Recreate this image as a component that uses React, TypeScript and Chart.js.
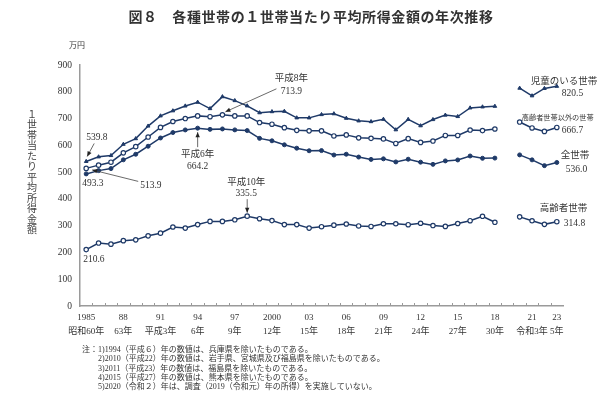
import React, { useEffect, useRef } from "react";
import { Chart, registerables } from "chart.js";

Chart.register(...registerables);

const years: string[] = [];
for (let y = 1985; y <= 2023; y++) years.push(String(y));

const xTopLabels: Record<number, string> = {
  0: "1985", 3: "88", 6: "91", 9: "94", 12: "97", 15: "2000", 18: "03",
  21: "06", 24: "09", 27: "12", 30: "15", 33: "18", 36: "21", 38: "23",
};
const xEraLabels: Record<number, string> = {
  0: "昭和60年", 3: "63年", 6: "平成3年", 9: "6年", 12: "9年", 15: "12年", 18: "15年",
  21: "18年", 24: "21年", 27: "24年", 30: "27年", 33: "30年", 36: "令和3年", 38: "5年",
};

// 児童のいる世帯
const childHouseholds: (number | null)[] = [
  539.8, 557, 562, 604, 625, 672, 710, 729, 747, 761.1,
  737.2, 781.6, 767.1, 747.4, 721.7, 725.8, 727.2, 702.7, 702.6, 714.9,
  718.0, 701.2, 691.4, 688.5, 697.3, 658.1, 697.0, 673.2, 696.3, 712.9,
  707.6, 739.8, 743.6, 745.9, null, 813.5, 785.0, 812.6, 820.5,
];
// 高齢者世帯以外の世帯
const nonElderlyHouseholds: (number | null)[] = [
  513.9, 526, 537, 572, 595, 631, 667, 689, 700, 710,
  707, 713.9, 710, 710, 685, 679, 666, 656, 654, 654,
  635, 639, 628, 626, 624, 607, 625, 611, 616, 637,
  637, 657, 655, 661, null, 687, 665, 652, 666.7,
];
// 全世帯
const allHouseholds: (number | null)[] = [
  493.3, 505.6, 513.1, 545.9, 566.7, 596.6, 627.5, 647.8, 657.5, 664.2,
  659.6, 661.2, 657.7, 655.2, 626.0, 616.9, 602.0, 589.3, 579.7, 580.4,
  563.8, 566.8, 556.2, 547.5, 549.6, 538.0, 548.2, 537.2, 528.9, 541.9,
  545.4, 560.2, 551.6, 552.3, null, 564.3, 545.7, 524.2, 536.0,
];
// 高齢者世帯
const elderlyHouseholds: (number | null)[] = [
  210.6, 235, 231, 244, 247, 262, 272, 295, 291, 304,
  316, 316, 322, 335.5, 326, 319, 304, 304, 290.9, 296.1,
  301.9, 306.3, 298.9, 297.0, 307.2, 307.2, 303.6, 309.1, 300.5, 297.3,
  308.1, 318.6, 334.9, 312.6, null, 332.9, 318.3, 304.9, 314.8,
];

const NAVY = "#1f3a68";
const AXIS = "#9a9a9a";
const TXT = "#333333";
const NUM = '"Liberation Serif", "Noto Sans CJK JP", serif';
const JP = '"Noto Sans CJK JP", "Liberation Serif", sans-serif';

const notes: string[] = [
  "1)1994（平成６）年の数値は、兵庫県を除いたものである。",
  "2)2010（平成22）年の数値は、岩手県、宮城県及び福島県を除いたものである。",
  "3)2011（平成23）年の数値は、福島県を除いたものである。",
  "4)2015（平成27）年の数値は、熊本県を除いたものである。",
  "5)2020（令和２）年は、調査（2019（令和元）年の所得）を実施していない。",
];

function arrow(ctx: CanvasRenderingContext2D, x1: number, y1: number, x2: number, y2: number) {
  ctx.save();
  ctx.strokeStyle = "#444";
  ctx.fillStyle = "#222";
  ctx.lineWidth = 0.8;
  ctx.beginPath();
  ctx.moveTo(x1, y1);
  ctx.lineTo(x2, y2);
  ctx.stroke();
  const a = Math.atan2(y2 - y1, x2 - x1);
  const L = 5, W = 2.2;
  ctx.beginPath();
  ctx.moveTo(x2, y2);
  ctx.lineTo(x2 - L * Math.cos(a) + W * Math.sin(a), y2 - L * Math.sin(a) - W * Math.cos(a));
  ctx.lineTo(x2 - L * Math.cos(a) - W * Math.sin(a), y2 - L * Math.sin(a) + W * Math.cos(a));
  ctx.closePath();
  ctx.fill();
  ctx.restore();
}

const decorPlugin = {
  id: "decor",
  afterDraw(chart: any) {
    const ctx: CanvasRenderingContext2D = chart.ctx;
    const xs = chart.scales.x;
    const ys = chart.scales.y;
    const area = chart.chartArea;
    const px = (i: number) => xs.getPixelForValue(i);
    const py = (v: number) => ys.getPixelForValue(v);

    ctx.save();
    // inward x ticks at category boundaries
    ctx.strokeStyle = AXIS;
    ctx.lineWidth = 1;
    const step = px(1) - px(0);
    for (let i = 1; i < years.length; i++) {
      const x = Math.round(px(i) - step / 2) + 0.5;
      ctx.beginPath();
      ctx.moveTo(x, area.bottom);
      ctx.lineTo(x, area.bottom - 3);
      ctx.stroke();
    }

    // title
    ctx.fillStyle = TXT;
    ctx.textBaseline = "middle";
    ctx.textAlign = "center";
    ctx.font = `bold 14px ${JP}`;
    (ctx as any).letterSpacing = "0.6px";
    ctx.fillText("図８　各種世帯の１世帯当たり平均所得金額の年次推移", 311, 17);
    (ctx as any).letterSpacing = "0px";

    // unit
    ctx.font = `8px ${JP}`;
    ctx.fillText("万円", 77, 45);

    // vertical y title
    ctx.font = `10px ${JP}`;
    ctx.fillStyle = "#444";
    const yTitle = "１世帯当たり平均所得金額";
    for (let i = 0; i < yTitle.length; i++) {
      ctx.fillText(yTitle[i], 32, 114 + i * 10.5);
    }

    // annotations
    ctx.fillStyle = TXT;
    ctx.font = `9.5px ${NUM}`;
    ctx.textAlign = "left";
    const c0 = { x: px(0), y: py(childHouseholds[0] as number) };
    ctx.fillText("539.8", c0.x, c0.y - 24);
    arrow(ctx, c0.x + 8, c0.y - 18, c0.x + 1, c0.y - 5);

    const a0 = { x: px(0), y: py(allHouseholds[0] as number) };
    ctx.fillText("493.3", a0.x - 4, a0.y + 10);

    const n0 = { x: px(0), y: py(nonElderlyHouseholds[0] as number) };
    ctx.fillText("513.9", n0.x + 54, n0.y + 17);
    arrow(ctx, n0.x + 52, n0.y + 13, n0.x + 6, n0.y + 1.5);

    const e0 = { x: px(0), y: py(elderlyHouseholds[0] as number) };
    ctx.fillText("210.6", e0.x - 3, e0.y + 10);

    ctx.textAlign = "center";
    const a94 = { x: px(9), y: py(allHouseholds[9] as number) };
    ctx.fillText("平成6年", a94.x, a94.y + 26);
    ctx.fillText("664.2", a94.x, a94.y + 38);
    arrow(ctx, a94.x, a94.y + 19, a94.x, a94.y + 4);

    const n96 = { x: px(11), y: py(nonElderlyHouseholds[11] as number) };
    ctx.fillText("平成8年", n96.x + 69, n96.y - 36);
    ctx.fillText("713.9", n96.x + 69, n96.y - 23);
    arrow(ctx, n96.x + 54, n96.y - 26, n96.x + 3, n96.y - 3);

    const e98 = { x: px(13), y: py(elderlyHouseholds[13] as number) };
    ctx.fillText("平成10年", e98.x - 1, e98.y - 34);
    ctx.fillText("335.5", e98.x - 1, e98.y - 23);
    arrow(ctx, e98.x, e98.y - 17, e98.x, e98.y - 3.5);

    // right-side labels
    const last = years.length - 1;
    const lx = px(last);
    ctx.textAlign = "left";
    ctx.font = `9.5px ${JP}`;
    ctx.fillText("児童のいる世帯", lx - 26, 80);
    ctx.font = `9.5px ${NUM}`;
    ctx.fillText("820.5", lx + 5, 93);
    ctx.font = `7.2px ${JP}`;
    ctx.fillText("高齢者世帯以外の世帯", lx - 35, 117);
    ctx.font = `9.5px ${NUM}`;
    ctx.fillText("666.7", lx + 5, 130);
    ctx.font = `9.5px ${JP}`;
    ctx.fillText("全世帯", lx + 4, 154);
    ctx.font = `9.5px ${NUM}`;
    ctx.fillText("536.0", lx + 9, 169);
    ctx.font = `9.5px ${JP}`;
    ctx.fillText("高齢者世帯", lx - 17, 207);
    ctx.font = `9.5px ${NUM}`;
    ctx.fillText("314.8", lx + 7, 223);

    // notes
    ctx.font = `8px ${NUM}`;
    ctx.fillStyle = TXT;
    ctx.fillText("注：", 82, 350);
    notes.forEach((n, i) => ctx.fillText(n, 98, 350 + i * 9.3));
    ctx.restore();
  },
};

export default function App() {
  const ref = useRef<HTMLCanvasElement | null>(null);
  useEffect(() => {
    document.body.style.margin = "0";
    const canvas = ref.current;
    if (!canvas) return;
    const mk = (label: string, data: (number | null)[], style: string, open: boolean, r: number) => ({
      label,
      data,
      borderColor: NAVY,
      backgroundColor: open ? "#ffffff" : NAVY,
      pointBorderColor: NAVY,
      pointBackgroundColor: open ? "#ffffff" : NAVY,
      pointStyle: style,
      pointRadius: r,
      pointBorderWidth: open ? 1.2 : 1,
      borderWidth: 1.5,
      tension: 0,
      spanGaps: false,
    });
    const chart = new Chart(canvas, {
      type: "line",
      data: {
        labels: years,
        datasets: [
          mk("児童のいる世帯", childHouseholds, "triangle", false, 2.1),
          mk("高齢者世帯以外の世帯", nonElderlyHouseholds, "circle", true, 2.2),
          mk("全世帯", allHouseholds, "circle", false, 2.0),
          mk("高齢者世帯", elderlyHouseholds, "circle", true, 2.2),
        ],
      },
      options: {
        responsive: false,
        animation: false,
        layout: { padding: { left: 0, right: 39, top: 65, bottom: 0 } },
        plugins: { legend: { display: false }, tooltip: { enabled: false }, title: { display: false } },
        scales: {
          x: {
            type: "category",
            offset: true,
            grid: { display: false, drawTicks: false },
            border: { display: true, color: AXIS, width: 1.5 },
            ticks: {
              autoSkip: false,
              maxRotation: 0,
              minRotation: 0,
              padding: 5,
              color: TXT,
              font: { family: NUM, size: 9, lineHeight: 1.5 },
              callback: (_v: any, i: number) => (xTopLabels[i] ? [xTopLabels[i], xEraLabels[i]] : ""),
            },
            afterFit: (s: any) => {
              s.height = 91;
            },
          },
          y: {
            min: 0,
            max: 900,
            grid: { display: false, drawTicks: false },
            border: { display: true, color: AXIS, width: 1.5 },
            ticks: { stepSize: 100, padding: 8, color: TXT, font: { family: NUM, size: 9.5 } },
            afterFit: (s: any) => {
              s.width = 80;
            },
          },
        },
      },
      plugins: [decorPlugin],
    } as any);
    return () => chart.destroy();
  }, []);
  return <canvas ref={ref} width={602} height={397} style={{ display: "block" }} />;
}
